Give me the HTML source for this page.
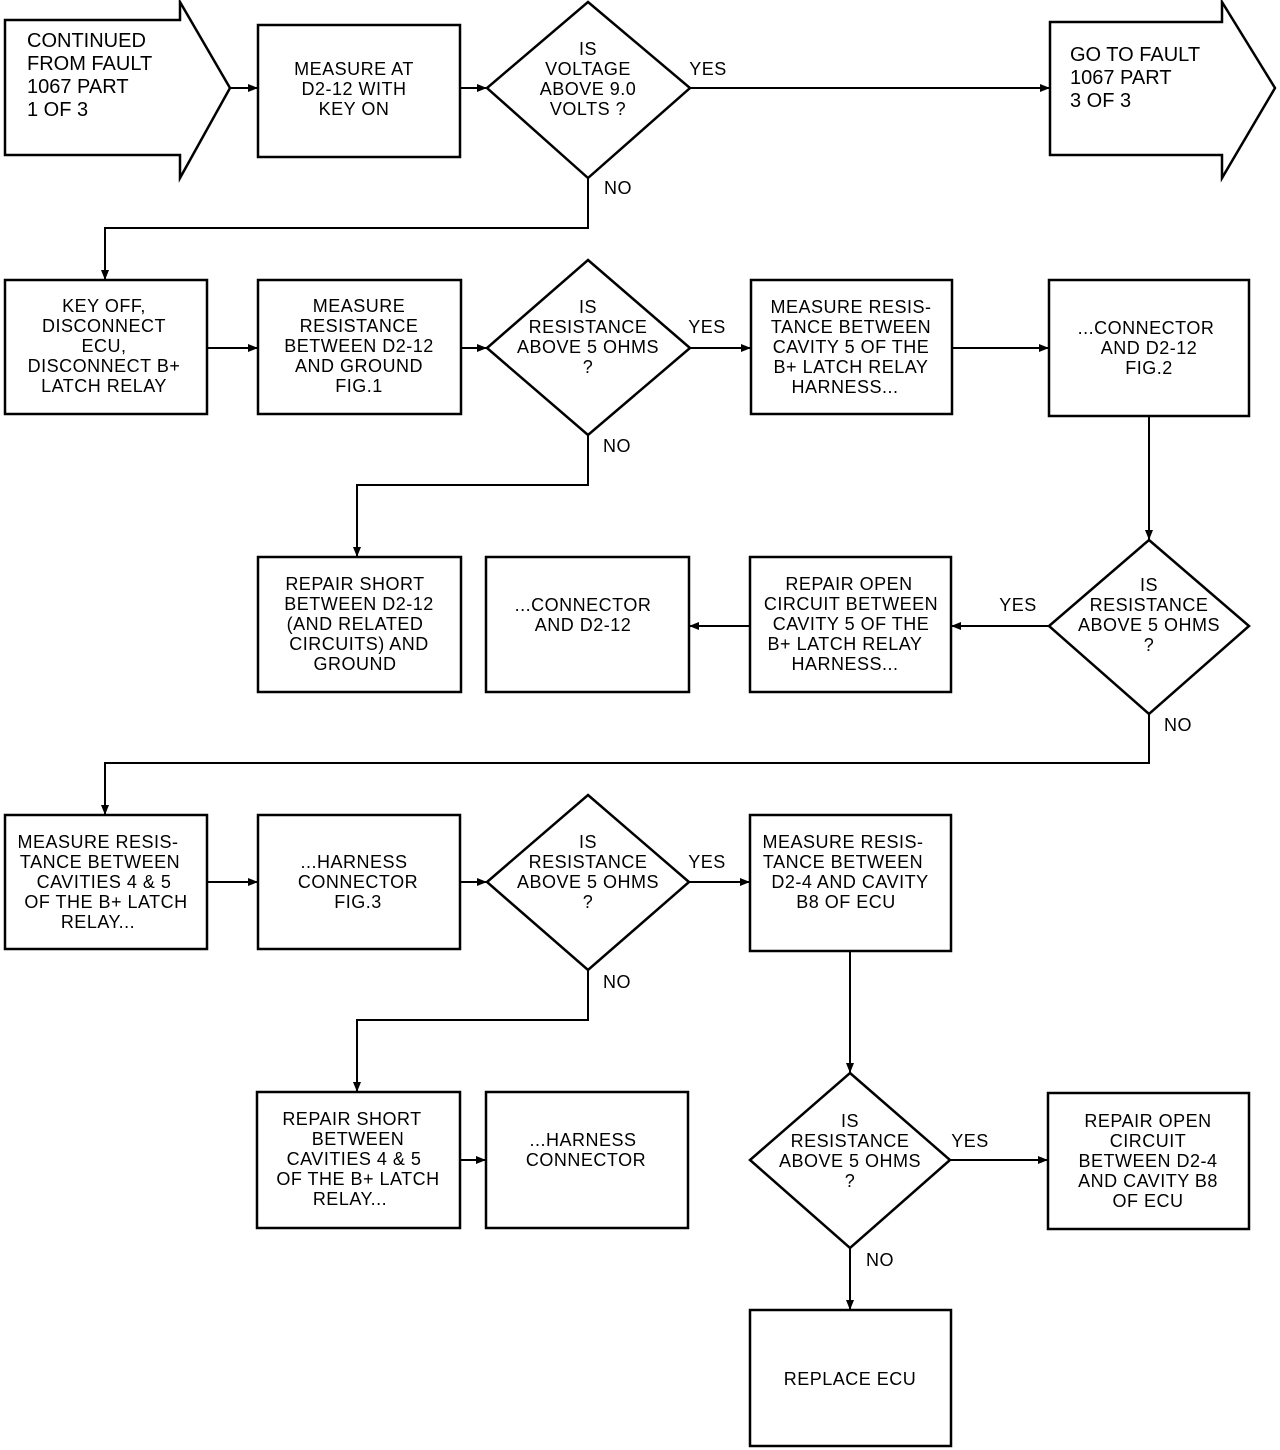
<!DOCTYPE html>
<html><head><meta charset="utf-8"><style>
html,body{margin:0;padding:0;background:#fff}
svg{display:block}
text{font-family:"Liberation Sans",sans-serif;fill:#000}
.b{font-size:18px;text-anchor:middle;letter-spacing:0.5px}
.l{font-size:20px}
.s{fill:none;stroke:#000;stroke-width:2.5}
.ln{fill:none;stroke:#000;stroke-width:2}
</style></head><body>
<svg width="1280" height="1450" viewBox="0 0 1280 1450" xmlns="http://www.w3.org/2000/svg">
<defs><marker id="a" markerWidth="10" markerHeight="8" refX="10" refY="4" orient="auto" markerUnits="userSpaceOnUse"><path d="M0,0 L10,4 L0,8 Z" fill="#000"/></marker></defs>

<!-- shapes -->
<path class="s" d="M5,20 H180 V2 L230,88 L180,178 V155 H5 Z"/>
<path class="s" d="M1050,22 H1222 V2 L1275,88 L1222,178 V155 H1050 Z"/>
<rect class="s" x="258" y="25" width="202" height="132"/>
<polygon class="s" points="588,2 690,88 588,178 487,88"/>

<rect class="s" x="5" y="280" width="202" height="134"/>
<rect class="s" x="258" y="280" width="203" height="134"/>
<polygon class="s" points="588,260 690,348 588,435 487,348"/>
<rect class="s" x="751" y="280" width="201" height="134"/>
<rect class="s" x="1049" y="280" width="200" height="136"/>

<rect class="s" x="258" y="557" width="203" height="135"/>
<rect class="s" x="486" y="557" width="203" height="135"/>
<rect class="s" x="750" y="557" width="201" height="135"/>
<polygon class="s" points="1149,540 1249,626 1149,714 1049,626"/>

<rect class="s" x="5" y="815" width="202" height="134"/>
<rect class="s" x="258" y="815" width="202" height="134"/>
<polygon class="s" points="588,795 689,882 588,970 487,882"/>
<rect class="s" x="750" y="815" width="201" height="136"/>

<rect class="s" x="257" y="1092" width="203" height="136"/>
<rect class="s" x="486" y="1092" width="202" height="136"/>
<polygon class="s" points="850,1073 950,1160 850,1248 750,1160"/>
<rect class="s" x="1048" y="1093" width="201" height="136"/>
<rect class="s" x="750" y="1310" width="201" height="136"/>

<!-- connectors -->
<path class="ln" d="M230,88 H258" marker-end="url(#a)"/>
<path class="ln" d="M460,88 H487" marker-end="url(#a)"/>
<path class="ln" d="M690,88 H1050" marker-end="url(#a)"/>
<path class="ln" d="M588,178 V228 H105 V280" marker-end="url(#a)"/>
<path class="ln" d="M207,348 H258" marker-end="url(#a)"/>
<path class="ln" d="M461,348 H487" marker-end="url(#a)"/>
<path class="ln" d="M690,348 H751" marker-end="url(#a)"/>
<path class="ln" d="M952,348 H1049" marker-end="url(#a)"/>
<path class="ln" d="M588,435 V485 H357 V557" marker-end="url(#a)"/>
<path class="ln" d="M1149,416 V540" marker-end="url(#a)"/>
<path class="ln" d="M1049,626 H951" marker-end="url(#a)"/>
<path class="ln" d="M750,626 H689" marker-end="url(#a)"/>
<path class="ln" d="M1149,714 V763 H105 V815" marker-end="url(#a)"/>
<path class="ln" d="M207,882 H258" marker-end="url(#a)"/>
<path class="ln" d="M460,882 H487" marker-end="url(#a)"/>
<path class="ln" d="M689,882 H750" marker-end="url(#a)"/>
<path class="ln" d="M588,970 V1020 H357 V1092" marker-end="url(#a)"/>
<path class="ln" d="M460,1160 H486" marker-end="url(#a)"/>
<path class="ln" d="M850,951 V1073" marker-end="url(#a)"/>
<path class="ln" d="M950,1160 H1048" marker-end="url(#a)"/>
<path class="ln" d="M850,1248 V1310" marker-end="url(#a)"/>

<!-- labels -->
<g class="l">
<text x="27" y="47">CONTINUED</text><text x="27" y="70">FROM FAULT</text><text x="27" y="93">1067 PART</text><text x="27" y="116">1 OF 3</text>
<text x="1070" y="61">GO TO FAULT</text><text x="1070" y="84">1067 PART</text><text x="1070" y="107">3 OF 3</text>
</g>
<g class="b">
<text x="708" y="75">YES</text><text x="618" y="194">NO</text>
<text x="707" y="333">YES</text><text x="617" y="452">NO</text>
<text x="1018" y="611">YES</text><text x="1178" y="731">NO</text>
<text x="707" y="868">YES</text><text x="617" y="988">NO</text>
<text x="970" y="1147">YES</text><text x="880" y="1266">NO</text>

<text x="354" y="75">MEASURE AT</text><text x="354" y="95">D2-12 WITH</text><text x="354" y="115">KEY ON</text>
<text x="588" y="55">IS</text><text x="588" y="75">VOLTAGE</text><text x="588" y="95">ABOVE 9.0</text><text x="588" y="115">VOLTS ?</text>

<text x="104" y="312">KEY OFF,</text><text x="104" y="332">DISCONNECT</text><text x="104" y="352">ECU,</text><text x="104" y="372">DISCONNECT B+</text><text x="104" y="392">LATCH RELAY</text>
<text x="359" y="312">MEASURE</text><text x="359" y="332">RESISTANCE</text><text x="359" y="352">BETWEEN D2-12</text><text x="359" y="372">AND GROUND</text><text x="359" y="392">FIG.1</text>
<text x="588" y="313">IS</text><text x="588" y="333">RESISTANCE</text><text x="588" y="353">ABOVE 5 OHMS</text><text x="588" y="373">?</text>
<text x="851" y="313">MEASURE RESIS-</text><text x="851" y="333">TANCE BETWEEN</text><text x="851" y="353">CAVITY 5 OF THE</text><text x="851" y="373">B+ LATCH RELAY</text><text x="845" y="393">HARNESS...</text>
<text x="1146" y="334">...CONNECTOR</text><text x="1149" y="354">AND D2-12</text><text x="1149" y="374">FIG.2</text>

<text x="355" y="590">REPAIR SHORT</text><text x="359" y="610">BETWEEN D2-12</text><text x="355" y="630">(AND RELATED</text><text x="359" y="650">CIRCUITS) AND</text><text x="355" y="670">GROUND</text>
<text x="583" y="611">...CONNECTOR</text><text x="583" y="631">AND D2-12</text>
<text x="849" y="590">REPAIR OPEN</text><text x="851" y="610">CIRCUIT BETWEEN</text><text x="851" y="630">CAVITY 5 OF THE</text><text x="845" y="650">B+ LATCH RELAY</text><text x="845" y="670">HARNESS...</text>
<text x="1149" y="591">IS</text><text x="1149" y="611">RESISTANCE</text><text x="1149" y="631">ABOVE 5 OHMS</text><text x="1149" y="651">?</text>

<text x="98" y="848">MEASURE RESIS-</text><text x="100" y="868">TANCE BETWEEN</text><text x="104" y="888">CAVITIES 4 &amp; 5</text><text x="106" y="908">OF THE B+ LATCH</text><text x="98" y="928">RELAY...</text>
<text x="354" y="868">...HARNESS</text><text x="358" y="888">CONNECTOR</text><text x="358" y="908">FIG.3</text>
<text x="588" y="848">IS</text><text x="588" y="868">RESISTANCE</text><text x="588" y="888">ABOVE 5 OHMS</text><text x="588" y="908">?</text>
<text x="843" y="848">MEASURE RESIS-</text><text x="843" y="868">TANCE BETWEEN</text><text x="850" y="888">D2-4 AND CAVITY</text><text x="846" y="908">B8 OF ECU</text>

<text x="352" y="1125">REPAIR SHORT</text><text x="358" y="1145">BETWEEN</text><text x="354" y="1165">CAVITIES 4 &amp; 5</text><text x="358" y="1185">OF THE B+ LATCH</text><text x="350" y="1205">RELAY...</text>
<text x="583" y="1146">...HARNESS</text><text x="586" y="1166">CONNECTOR</text>
<text x="850" y="1127">IS</text><text x="850" y="1147">RESISTANCE</text><text x="850" y="1167">ABOVE 5 OHMS</text><text x="850" y="1187">?</text>
<text x="1148" y="1127">REPAIR OPEN</text><text x="1148" y="1147">CIRCUIT</text><text x="1148" y="1167">BETWEEN D2-4</text><text x="1148" y="1187">AND CAVITY B8</text><text x="1148" y="1207">OF ECU</text>
<text x="850" y="1385">REPLACE ECU</text>
</g>
</svg>
</body></html>
